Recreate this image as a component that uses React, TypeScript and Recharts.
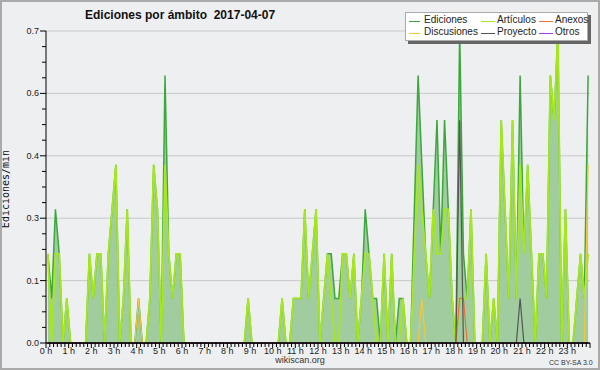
import { ComposedChart, Area, Line, XAxis, YAxis, CartesianGrid, ReferenceLine } from 'recharts';

// ediciones/min por tramo de 10 minutos (00:00 ... 23:50)
const ediciones = [
  0.2, 0.1, 0.3, 0.2, 0, 0.1, // 0 h
  0, 0, 0, 0, 0, 0.2, // 1 h
  0.1, 0.2, 0.2, 0, 0.2, 0.3, // 2 h
  0.4, 0, 0.1, 0.3, 0, 0, // 3 h
  0.1, 0, 0, 0.1, 0.4, 0.3, // 4 h
  0, 0.6, 0.2, 0.1, 0.2, 0.2, // 5 h
  0, 0, 0, 0, 0, 0, // 6 h
  0, 0, 0, 0, 0, 0, // 7 h
  0, 0, 0, 0, 0, 0.1, // 8 h
  0, 0, 0, 0, 0, 0, // 9 h
  0, 0, 0.1, 0, 0, 0.1, // 10 h
  0.1, 0.1, 0.3, 0.1, 0.2, 0.3, // 11 h
  0, 0.1, 0.2, 0.2, 0.1, 0.1, // 12 h
  0.2, 0.2, 0.1, 0.2, 0, 0.1, // 13 h
  0.3, 0.2, 0.1, 0.1, 0, 0.2, // 14 h
  0, 0.2, 0, 0.1, 0.1, 0, // 15 h
  0, 0.3, 0.6, 0.4, 0.2, 0.1, // 16 h
  0.3, 0.5, 0.2, 0.5, 0.3, 0.1, // 17 h
  0, 0.7, 0.2, 0.1, 0.3, 0, // 18 h
  0, 0, 0.2, 0, 0.1, 0, // 19 h
  0.5, 0.3, 0.1, 0.5, 0.1, 0.6, // 20 h
  0.2, 0.4, 0.2, 0, 0.2, 0.2, // 21 h
  0.1, 0.6, 0.5, 0.7, 0, 0.3, // 22 h
  0, 0, 0.1, 0.2, 0.1, 0.6, // 23 h
];

const articulos = [
  0.2, 0, 0.2, 0.2, 0, 0.1,
  0, 0, 0, 0, 0, 0.2,
  0.1, 0.2, 0.2, 0, 0.2, 0.3,
  0.4, 0, 0.1, 0.3, 0, 0,
  0, 0, 0, 0.1, 0.4, 0.3,
  0, 0.4, 0.2, 0.1, 0.2, 0.2,
  0, 0, 0, 0, 0, 0,
  0, 0, 0, 0, 0, 0,
  0, 0, 0, 0, 0, 0.1,
  0, 0, 0, 0, 0, 0,
  0, 0, 0.1, 0, 0, 0.1,
  0.1, 0.1, 0.3, 0.1, 0.2, 0.3,
  0, 0.1, 0.2, 0.1, 0, 0,
  0.2, 0.2, 0.1, 0.2, 0, 0.1,
  0.2, 0.2, 0.1, 0, 0, 0.2,
  0, 0.2, 0, 0, 0.1, 0,
  0, 0.2, 0.4, 0.3, 0.2, 0.1,
  0.3, 0.2, 0.2, 0.3, 0.3, 0.1,
  0, 0.1, 0.1, 0.1, 0.3, 0,
  0, 0, 0.2, 0, 0.1, 0,
  0.5, 0.3, 0.1, 0.5, 0.1, 0.4,
  0.2, 0.4, 0.2, 0, 0.2, 0.2,
  0.1, 0.6, 0.5, 0.7, 0, 0.3,
  0, 0, 0.1, 0.2, 0.1, 0.2,
];

// series casi vacías: [tramo, valor]
const discusionesPts: [number, number][] = [[24, 0.1], [99, 0.1], [143, 0.4]];
const anexosPts: [number, number][] = [[109, 0.1], [110, 0.1]];
const proyectoPts: [number, number][] = [[109, 0.5], [125, 0.1]];
const otrosPts: [number, number][] = [];

const hourLabels = [
  '0 h', '1 h', '2 h', '3 h', '4 h', '5 h', '6 h', '7 h', '8 h', '9 h', '10 h', '11 h',
  '12 h', '13 h', '14 h', '15 h', '16 h', '17 h', '18 h', '19 h', '20 h', '21 h', '22 h', '23 h',
];

const yTicks = [
  0, 0.035, 0.07, 0.105, 0.14, 0.175, 0.21, 0.245, 0.28, 0.315, 0.35,
  0.385, 0.42, 0.455, 0.49, 0.525, 0.56, 0.595, 0.63, 0.665, 0.7,
];
const yMajor = [0, 0.14, 0.28, 0.42, 0.56, 0.7];
const yMajorLabels = ['0.0', '0.1', '0.3', '0.4', '0.6', '0.7'];

const legendItems = [
  { name: 'Ediciones', color: '#3ca83c' },
  { name: 'Artículos', color: '#a6e81a' },
  { name: 'Anexos', color: '#f0703a' },
  { name: 'Discusiones', color: '#f5c836' },
  { name: 'Proyecto', color: '#555555' },
  { name: 'Otros', color: '#9b3fe8' },
];

const fromPts = (pts: [number, number][]) => {
  const out = ediciones.map(() => 0);
  pts.forEach(([i, v]) => { out[i] = v; });
  return out;
};

const discusiones = fromPts(discusionesPts);
const anexos = fromPts(anexosPts);
const proyecto = fromPts(proyectoPts);
const otros = fromPts(otrosPts);

const chartData = ediciones.map((ed, i) => ({
  t: i * 10 + 5,
  ed,
  art: articulos[i],
  disc: discusiones[i],
  anx: anexos[i],
  proj: proyecto[i],
  otr: otros[i],
}));

const xTicks = Array.from({ length: 145 }, (_, i) => i * 10);

const FONT = '"Liberation Sans", Arial, sans-serif';

function YTick(props: any) {
  const { x, y, payload } = props;
  const idx = yMajor.findIndex((v) => Math.abs(v - payload.value) < 1e-6);
  const major = idx >= 0;
  return (
    <g>
      <line x1={x - (major ? 6 : 4)} x2={x} y1={y} y2={y} stroke="#000" />
      {major && (
        <text x={x - 7} y={y} dy={3} textAnchor="end" fontSize={9} fontFamily={FONT} fill="#222">
          {yMajorLabels[idx]}
        </text>
      )}
    </g>
  );
}

function XTick(props: any) {
  const { x, y, payload } = props;
  const m = payload.value;
  const isHour = m % 60 === 0;
  const h = m / 60;
  return (
    <g>
      <line x1={x} x2={x} y1={y} y2={y + (isHour ? 5 : 4)} stroke="#000" />
      {isHour && h < 24 && (
        <text x={x} y={y + 11} textAnchor="middle" fontSize={9} fontFamily={FONT} fill="#222">
          {hourLabels[h]}
        </text>
      )}
    </g>
  );
}

export default function App() {
  return (
    <div style={{ position: 'absolute', left: 0, top: 0, width: 600, height: 370, background: '#eeeff1', overflow: 'hidden' }}>
      <ComposedChart width={600} height={370} data={chartData} margin={{ top: 31, right: 10, bottom: 10, left: 0 }}>
        <CartesianGrid vertical={false} horizontalValues={yMajor} stroke="#c9c9c9" />
        <XAxis
          dataKey="t"
          type="number"
          domain={[0, 1440]}
          ticks={xTicks}
          interval={0}
          height={17}
          tickSize={0}
          tickMargin={0}
          tickLine={false}
          axisLine={{ stroke: '#000' }}
          tick={<XTick />}
        />
        <YAxis
          type="number"
          domain={[0, 0.7]}
          ticks={yTicks}
          interval={0}
          width={46}
          tickSize={0}
          tickMargin={0}
          tickLine={false}
          axisLine={{ stroke: '#000' }}
          tick={<YTick />}
        />
        <Area
          type="linear"
          dataKey="ed"
          stroke="#3ca83c"
          strokeWidth={1.5}
          fill="#a0cca0"
          fillOpacity={1}
          dot={false}
          activeDot={false}
          isAnimationActive={false}
        />
        <Line type="linear" dataKey="art" stroke="#a6e81a" strokeWidth={1.8} dot={false} isAnimationActive={false} />
        <Line type="linear" dataKey="disc" stroke="#f5c836" strokeWidth={1.2} dot={false} isAnimationActive={false} />
        <Line type="linear" dataKey="anx" stroke="#f0703a" strokeWidth={1.2} dot={false} isAnimationActive={false} />
        <Line type="linear" dataKey="otr" stroke="#9b3fe8" strokeWidth={1.2} dot={false} isAnimationActive={false} />
        <Line type="linear" dataKey="proj" stroke="#555555" strokeWidth={1.2} dot={false} isAnimationActive={false} />
        <ReferenceLine y={0} stroke="#000" />
      </ComposedChart>

      <div style={{ position: 'absolute', left: 85, top: 8, fontFamily: FONT, fontWeight: 'bold', fontSize: 12, color: '#111', whiteSpace: 'pre' }}>
        {'Ediciones por ámbito  2017-04-07'}
      </div>

      <div style={{ position: 'absolute', left: 5, top: 189, width: 0, height: 0 }}>
        <div style={{ position: 'absolute', transform: 'translate(-50%, -50%) rotate(-90deg)', fontFamily: '"DejaVu Sans Mono", monospace', fontSize: 10, color: '#111', whiteSpace: 'nowrap' }}>
          Ediciones/min
        </div>
      </div>

      <div
        style={{
          position: 'absolute', left: 405, top: 12, width: 183, height: 29, background: '#fff',
          border: '1px solid #aaa', boxSizing: 'border-box', boxShadow: '3px 3px 0 #666',
          fontFamily: FONT, fontSize: 10, color: '#222',
        }}
      >
        {legendItems.map((it, i) => {
          const col = i % 3;
          const row = Math.floor(i / 3);
          const lineX = [3, 75, 133][col];
          const textX = [18, 91, 149][col];
          const cy = row === 0 ? 8 : 20;
          return (
            <div key={it.name}>
              <div style={{ position: 'absolute', left: lineX, top: cy, width: col === 0 ? 11 : 14, height: 1, background: it.color }} />
              <div style={{ position: 'absolute', left: textX, top: cy - 7, lineHeight: '12px' }}>{it.name}</div>
            </div>
          );
        })}
      </div>

      <div style={{ position: 'absolute', left: 0, width: 600, top: 355, textAlign: 'center', fontFamily: FONT, fontSize: 9, color: '#333' }}>
        wikiscan.org
      </div>
      <div style={{ position: 'absolute', left: 549, top: 359, fontFamily: FONT, fontSize: 7, color: '#333' }}>
        CC BY-SA 3.0
      </div>
      <div style={{ position: 'absolute', left: 0, top: 0, width: 600, height: 370, border: '2px solid #aaa', boxSizing: 'border-box', pointerEvents: 'none' }} />
    </div>
  );
}
